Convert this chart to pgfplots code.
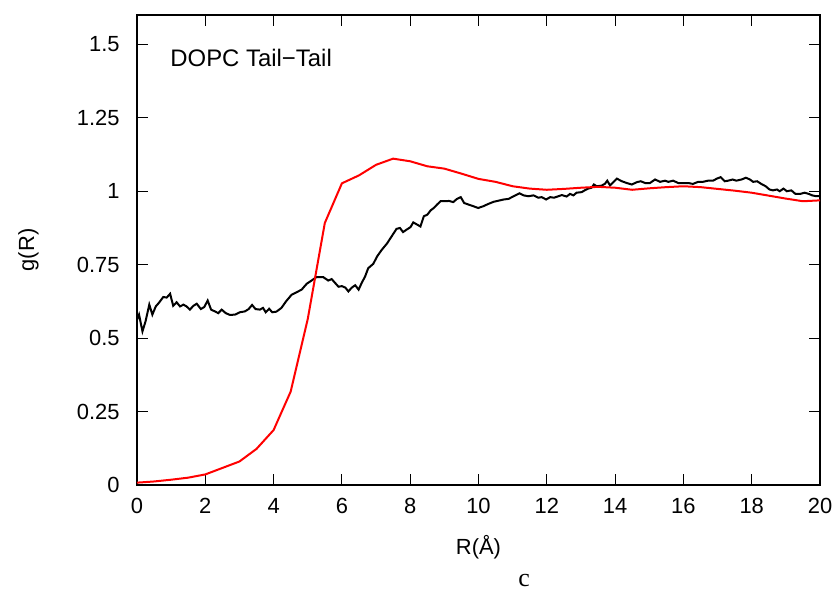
\documentclass[border=0pt]{standalone}
\usepackage{pgfplots}
\pgfplotsset{compat=1.18}
\usepackage{fontspec}
\setmainfont{Liberation Sans}
\newfontfamily\seriffont{Liberation Serif}
\begin{document}
\begin{tikzpicture}
\begin{axis}[
  name=ax,
  scale only axis,
  width=341.5bp, height=235bp,
  xmin=0, xmax=20, ymin=0, ymax=1.6,
  xtick={0,2,...,20},
  ytick={0,0.25,0.5,0.75,1,1.25,1.5},
  yticklabels={0,0.25,0.5,0.75,1,1.25,1.5},
  tick align=inside,
  major tick length=5.5bp,
  axis line style={line width=0.6bp},
  every tick/.style={line width=0.6bp, black},
  /pgf/number format/assume math mode=true,
  tick label style={font=\fontsize{11}{13}\selectfont},
  xticklabel style={anchor=base, inner sep=0pt, yshift=-14.25bp},
  yticklabel style={anchor=east, inner sep=0pt, xshift=-8.5bp},
  xlabel={R(Å)},
  ylabel={g(R)},
  label style={font=\fontsize{11}{13}\selectfont},
  xlabel style={at={(axis description cs:0.5,-0.1489)}, anchor=base, inner sep=0pt},
  ylabel style={at={(axis description cs:-0.1589,0.5)}, anchor=center, inner sep=0pt},
  clip=true,
]
% simulation (black)
\addplot[black, line width=1bp] coordinates {
(0,0.563) (0.06,0.58) (0.16,0.523) (0.25,0.557) (0.36,0.614) (0.45,0.58) (0.55,0.608) (0.64,0.62) (0.77,0.64) (0.87,0.638) (0.97,0.651)
(1.06,0.61) (1.16,0.622) (1.26,0.608) (1.36,0.614) (1.45,0.608) (1.55,0.597) (1.65,0.61) (1.75,0.617) (1.87,0.599) (1.97,0.606)
(2.07,0.628) (2.17,0.597) (2.28,0.591) (2.38,0.585) (2.48,0.597) (2.6,0.585) (2.72,0.579) (2.87,0.58)
(3.01,0.588) (3.16,0.591) (3.27,0.599) (3.37,0.613) (3.47,0.599) (3.6,0.597) (3.69,0.603) (3.77,0.588) (3.87,0.6) (3.96,0.588)
(4.08,0.59) (4.23,0.603) (4.37,0.626) (4.53,0.648) (4.67,0.656) (4.82,0.665) (4.97,0.685)
(5.11,0.696) (5.26,0.708) (5.45,0.708) (5.6,0.696) (5.7,0.701) (5.8,0.688) (5.9,0.675)
(6.0,0.677) (6.1,0.672) (6.19,0.659) (6.29,0.672) (6.39,0.68) (6.49,0.665) (6.58,0.688) (6.68,0.71) (6.77,0.738) (6.92,0.753)
(7.03,0.778) (7.17,0.801) (7.32,0.822) (7.46,0.847) (7.6,0.872) (7.7,0.875) (7.79,0.861) (7.89,0.869)
(8.01,0.878) (8.09,0.894) (8.21,0.886) (8.3,0.88) (8.4,0.915) (8.5,0.92) (8.6,0.935) (8.69,0.943) (8.79,0.955) (8.89,0.966)
(9.01,0.966) (9.14,0.967) (9.26,0.963) (9.37,0.974) (9.48,0.98) (9.58,0.96) (9.7,0.955) (9.85,0.949) (9.99,0.943)
(10.14,0.949) (10.29,0.957) (10.44,0.964) (10.59,0.968) (10.74,0.972) (10.88,0.974) (10.98,0.98)
(11.08,0.986) (11.2,0.993) (11.32,0.986) (11.46,0.983) (11.61,0.986) (11.75,0.978) (11.85,0.98) (11.98,0.972)
(12.1,0.98) (12.21,0.978) (12.34,0.983) (12.44,0.987) (12.58,0.982) (12.68,0.991) (12.78,0.986) (12.87,0.995)
(13.02,0.997) (13.11,1.003) (13.21,1.009) (13.31,1.012) (13.38,1.023) (13.46,1.017) (13.6,1.019) (13.7,1.025) (13.77,1.036) (13.85,1.02) (13.95,1.031)
(14.05,1.043) (14.2,1.034) (14.34,1.028) (14.49,1.023) (14.64,1.031) (14.75,1.034) (14.88,1.028)
(15.02,1.028) (15.17,1.04) (15.32,1.032) (15.46,1.036) (15.56,1.032) (15.7,1.036) (15.85,1.028) (15.99,1.028)
(16.14,1.028) (16.28,1.025) (16.43,1.032) (16.57,1.032) (16.72,1.036) (16.87,1.036) (16.98,1.043)
(17.09,1.048) (17.21,1.034) (17.31,1.036) (17.44,1.04) (17.55,1.036) (17.7,1.04) (17.83,1.046) (17.95,1.04)
(18.04,1.032) (18.16,1.034) (18.28,1.025) (18.41,1.017) (18.52,1.006) (18.62,1.003) (18.74,1.006) (18.82,1.0) (18.93,1.009)
(19.03,1.0) (19.16,1.003) (19.28,0.991) (19.42,0.991) (19.55,0.995) (19.67,0.991) (19.77,0.986) (19.89,0.983) (20,0.983)
};
% model (red)
\addplot[red, line width=1bp] coordinates {
(0,0.008) (0.5,0.012) (1,0.018) (1.5,0.025) (2,0.036) (2.5,0.058) (3,0.08) (3.5,0.123) (4,0.187) (4.5,0.318)
(5,0.565) (5.5,0.892) (6,1.027) (6.5,1.054) (7,1.09) (7.5,1.111) (8,1.102) (8.5,1.085) (9,1.077) (9.5,1.06)
(10,1.042) (10.5,1.032) (11,1.017) (11.5,1.009) (12,1.005) (12.5,1.008) (13,1.012) (13.5,1.015) (14,1.012) (14.5,1.005)
(15,1.01) (15.5,1.014) (16,1.017) (16.5,1.014) (17,1.008) (17.5,1.002) (18,0.995) (18.5,0.985) (19,0.975) (19.5,0.966) (20,0.969)
};
\node[anchor=base west, inner sep=0pt, font=\fontsize{12}{14}\selectfont] at (axis cs:0.966,1.425) {DOPC Tail−Tail};
\end{axis}
\node[anchor=base, inner sep=0pt, font=\seriffont\fontsize{13}{15}\selectfont] at ([xshift=193.5bp,yshift=-50.5bp]ax.south west) {c};
\path ([xshift=-68.5bp,yshift=-53bp]ax.south west) rectangle ([xshift=10bp,yshift=7.5bp]ax.north east);
\end{tikzpicture}
\end{document}
